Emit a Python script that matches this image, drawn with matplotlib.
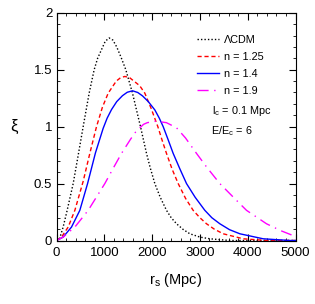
import matplotlib
matplotlib.use("Agg")
import matplotlib.pyplot as plt
from matplotlib.ticker import MultipleLocator, FuncFormatter

plt.rcParams['font.family'] = ['Liberation Sans', 'DejaVu Sans']
plt.rcParams['mathtext.default'] = 'regular'

# Data
r_lcdm = [0, 60, 139, 223, 349, 450, 558, 683, 788, 860, 941, 1020, 1102, 1180, 1260, 1350, 1450, 1590, 1757, 1883, 1960, 2057, 2170, 2301, 2400, 2511, 2650, 2790, 3000, 3208, 3626, 5000]
xi_lcdm = [0, 0.01, 0.118, 0.265, 0.5, 0.74, 1.0, 1.294, 1.5, 1.60, 1.676, 1.75, 1.779, 1.76, 1.70, 1.61, 1.5, 1.294, 1.0, 0.765, 0.64, 0.5, 0.38, 0.265, 0.2, 0.147, 0.097, 0.059, 0.03, 0.015, 0.0, 0.0]

r_n125 = [0, 105, 244, 384, 558, 697, 837, 960, 1081, 1250, 1340, 1430, 1530, 1620, 1740, 1848, 1980, 2120, 2210, 2301, 2420, 2546, 2700, 2859, 3000, 3138, 3300, 3487, 3905, 4393, 5000]
xi_n125 = [0, 0.03, 0.118, 0.265, 0.52, 0.765, 1.0, 1.17, 1.294, 1.40, 1.43, 1.441, 1.43, 1.40, 1.36, 1.294, 1.16, 1.0, 0.88, 0.765, 0.625, 0.5, 0.37, 0.265, 0.2, 0.147, 0.1, 0.059, 0.015, 0.0, 0.0]

r_n14 = [0, 139, 314, 488, 650, 815, 976, 1060, 1151, 1260, 1380, 1480, 1590, 1700, 1800, 1920, 2057, 2150, 2232, 2340, 2441, 2580, 2720, 2900, 3103, 3250, 3417, 3620, 3836, 4324, 4882, 5000]
xi_n14 = [0, 0.03, 0.118, 0.265, 0.5, 0.77, 0.985, 1.075, 1.15, 1.22, 1.272, 1.302, 1.315, 1.30, 1.27, 1.22, 1.147, 1.075, 1.0, 0.88, 0.765, 0.63, 0.5, 0.38, 0.265, 0.2, 0.147, 0.095, 0.059, 0.015, 0.0, 0.0]

r_n19 = [0, 139, 384, 663, 1011, 1200, 1360, 1550, 1650, 1744, 1820, 1900, 2078, 2300, 2511, 2700, 2929, 3150, 3417, 3700, 3975, 4393, 4700, 5000]
xi_n19 = [0, 0.03, 0.118, 0.265, 0.5, 0.645, 0.765, 0.89, 0.95, 0.99, 1.02, 1.035, 1.048, 1.035, 0.99, 0.90, 0.765, 0.64, 0.5, 0.38, 0.265, 0.147, 0.085, 0.035]

labels = ['ΛCDM', 'n = 1.25', 'n = 1.4', 'n = 1.9']

fig = plt.figure(figsize=(3.15, 3.04), dpi=100)
ax = fig.add_axes([56.5/315, 1-240.5/304, 239/315, 227.7/304])

ax.plot(r_lcdm, xi_lcdm, color='black', lw=1.0, linestyle=(0, (1, 1.5)), label=labels[0])
ax.plot(r_n125, xi_n125, color='red', lw=1.0, linestyle=(0, (3, 2)), label=labels[1])
ax.plot(r_n14, xi_n14, color='blue', lw=1.0, linestyle='-', label=labels[2])
ax.plot(r_n19, xi_n19, color='magenta', lw=1.0, linestyle=(0, (8, 4, 1, 4)), label=labels[3])

ax.set_xlim(0, 5000)
ax.set_ylim(0, 2)
ax.xaxis.set_major_locator(MultipleLocator(1000))
ax.xaxis.set_minor_locator(MultipleLocator(200))
ax.yaxis.set_major_locator(MultipleLocator(0.5))
ax.yaxis.set_minor_locator(MultipleLocator(0.1))
ax.tick_params(which='both', direction='in', top=True, right=True, labelsize=9.5)
ax.tick_params(which='major', length=5, width=0.8)
ax.tick_params(which='minor', length=2.5, width=0.6)
ax.tick_params(axis='x', pad=5)
ax.tick_params(axis='y', pad=3)
ax.yaxis.set_major_formatter(FuncFormatter(lambda v, p: ('%g' % v)))
ax.xaxis.set_major_formatter(FuncFormatter(lambda v, p: ('%d' % v)))

ax.set_xlabel('r$_s$ (Mpc)', fontsize=10.5, labelpad=8)
ax.set_ylabel('ξ', fontsize=12, rotation=0, labelpad=14, va='center')

leg = ax.legend(loc='upper left', bbox_to_anchor=(0.547, 0.947), frameon=False,
                fontsize=7.8, handlelength=2.0, handletextpad=0.5, labelspacing=0.66)

ax.text(0.65, 0.568, 'l$_c$ = 0.1 Mpc', transform=ax.transAxes, fontsize=7.8, va='center')
ax.text(0.647, 0.481, 'E/E$_c$ = 6', transform=ax.transAxes, fontsize=7.8, va='center')

fig.savefig('out.png', dpi=100)
